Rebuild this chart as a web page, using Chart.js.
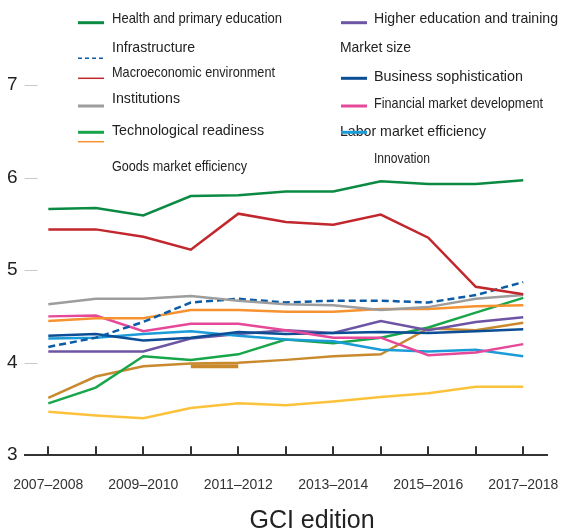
<!DOCTYPE html>
<html><head><meta charset="utf-8">
<script src="https://cdn.jsdelivr.net/npm/chart.js@4"></script>
<style>html,body{margin:0;padding:0;background:#fff;}</style>
</head><body>
<canvas id="c" width="561" height="531"></canvas>
<script>
const editions = ['2007–2008','2008–2009','2009–2010','2010–2011','2011–2012','2012–2013','2013–2014','2014–2015','2015–2016','2016–2017','2017–2018'];
const healthPrimaryEducation = [5.66,5.67,5.59,5.80,5.81,5.85,5.85,5.96,5.93,5.93,5.97];
const macroeconomicEnvironment = [5.44,5.44,5.36,5.22,5.61,5.52,5.49,5.60,5.35,4.82,4.74];
const institutions = [4.63,4.69,4.69,4.72,4.67,4.63,4.62,4.57,4.60,4.69,4.73];
const infrastructure = [4.17,4.27,4.44,4.65,4.69,4.65,4.67,4.67,4.65,4.73,4.87];
const goodsMarketEfficiency = [4.45,4.48,4.48,4.57,4.57,4.55,4.55,4.58,4.58,4.61,4.62];
const financialMarketDevelopment = [4.50,4.51,4.34,4.42,4.42,4.35,4.27,4.27,4.08,4.11,4.20];
const businessSophistication = [4.29,4.31,4.24,4.27,4.33,4.31,4.32,4.33,4.32,4.34,4.36];
const laborMarketEfficiency = [4.26,4.27,4.31,4.34,4.29,4.25,4.23,4.14,4.12,4.14,4.07];
const higherEducationTraining = [4.12,4.12,4.12,4.26,4.31,4.35,4.32,4.45,4.35,4.44,4.49];
const technologicalReadiness = [3.56,3.73,4.07,4.03,4.09,4.25,4.21,4.27,4.38,4.54,4.70];
const marketSize = [3.62,3.85,3.96,3.99,4.00,4.03,4.07,4.09,4.37,4.35,4.43];
const innovation = [3.47,3.43,3.40,3.51,3.56,3.54,3.58,3.63,3.67,3.74,3.74];
// stray key mark of "Market size" that sits inside the plot in the original
const marketSizeKeyMark = [null,null,null,3.96,3.96,null,null,null,null,null,null];
const yTicks = [3,4,5,6,7];
const axisTitle = 'GCI edition';

const FONT = '"Liberation Sans", Arial, sans-serif';

function ds(label, data, color, extra) {
  return Object.assign({label, data, borderColor: color, backgroundColor: color,
    borderWidth: 2.5, pointRadius: 0, tension: 0, fill: false}, extra || {});
}

const datasets = [
  ds('Health and primary education', healthPrimaryEducation, '#0A8A42'),
  ds('Macroeconomic environment', macroeconomicEnvironment, '#C1272D'),
  ds('Institutions', institutions, '#9D9D9D'),
  ds('Infrastructure', infrastructure, '#0B5BA6', {borderDash: [7, 4]}),
  ds('Goods market efficiency', goodsMarketEfficiency, '#F6922F'),
  ds('Financial market development', financialMarketDevelopment, '#E6489A'),
  ds('Business sophistication', businessSophistication, '#0B4E95'),
  ds('Labor market efficiency', laborMarketEfficiency, '#1B9BD7'),
  ds('Higher education and training', higherEducationTraining, '#6D55A4'),
  ds('Technological readiness', technologicalReadiness, '#19A64B'),
  ds('Market size', marketSize, '#C98A2E'),
  ds('Innovation', innovation, '#FDC23C'),
  ds('', marketSizeKeyMark, '#C98A2E', {borderWidth: 4, borderCapStyle: 'butt'})
];

const legendLayout = [
  {ds:0,  tx:112, ty:19,  sx:78,  sy:22.7,  lw:3,   w:170},
  {ds:3,  tx:112, ty:48,  sx:78,  sy:58.3,  lw:1.5, w:83, dash:[4,3]},
  {ds:1,  tx:112, ty:73,  sx:78,  sy:78.3,  lw:1.5, w:163},
  {ds:2,  tx:112, ty:99,  sx:78,  sy:106,   lw:3,   w:68},
  {ds:9,  tx:112, ty:131, sx:78,  sy:132.3, lw:3,   w:152},
  {ds:4,  tx:112, ty:167, sx:78,  sy:141.7, lw:1.5, w:135},
  {ds:8,  tx:374, ty:19,  sx:341, sy:22.7,  lw:3,   w:184},
  {ds:10, tx:340, ty:48,  w:71},
  {ds:6,  tx:374, ty:77,  sx:341, sy:78.3,  lw:3,   w:149},
  {ds:5,  tx:374, ty:104, sx:341, sy:106,   lw:3,   w:169},
  {ds:7,  tx:340, ty:132, sx:341, sy:132.3, lw:3,   w:146},
  {ds:11, tx:374, ty:159, w:56}
];

const decor = {
  id: 'gciDecor',
  afterDraw(chart) {
    const {ctx, chartArea: a, scales: {x, y}} = chart;
    ctx.save();
    // short y tick marks
    ctx.strokeStyle = '#c9c9c9'; ctx.lineWidth = 1;
    y.ticks.forEach(t => {
      if (t.value === y.min) return;
      const py = Math.round(y.getPixelForValue(t.value)) + 0.5;
      ctx.beginPath(); ctx.moveTo(a.left, py); ctx.lineTo(a.left + 13, py); ctx.stroke();
    });
    // x tick marks pointing up from the axis
    ctx.strokeStyle = '#333'; ctx.lineWidth = 2;
    x.ticks.forEach((t, i) => {
      const px = Math.round(x.getPixelForTick(i));
      ctx.beginPath(); ctx.moveTo(px, a.bottom); ctx.lineTo(px, a.bottom - 9); ctx.stroke();
    });
    // axis title
    ctx.fillStyle = '#222'; ctx.font = '25px ' + FONT;
    ctx.textAlign = 'center'; ctx.textBaseline = 'middle';
    ctx.fillText(axisTitle, 312, 521);
    // legend
    ctx.textAlign = 'left'; ctx.fillStyle = '#222'; ctx.font = '14.5px ' + FONT;
    legendLayout.forEach(it => {
      const d = chart.data.datasets[it.ds];
      const m = ctx.measureText(d.label).width;
      ctx.save(); ctx.translate(it.tx, it.ty); ctx.scale(it.w / m, 1);
      ctx.fillText(d.label, 0, 0); ctx.restore();
    });
    legendLayout.forEach(it => {
      if (it.sx === undefined) return;
      const d = chart.data.datasets[it.ds];
      ctx.save();
      ctx.strokeStyle = d.borderColor; ctx.lineWidth = it.lw;
      ctx.setLineDash(it.dash || []);
      ctx.beginPath(); ctx.moveTo(it.sx, it.sy); ctx.lineTo(it.sx + 26, it.sy); ctx.stroke();
      ctx.restore();
    });
    ctx.restore();
  }
};

new Chart(document.getElementById('c').getContext('2d'), {
  type: 'line',
  data: {labels: editions, datasets},
  options: {
    responsive: false, animation: false,
    layout: {padding: {left: 7, right: 14, top: 85, bottom: 37}},
    plugins: {legend: {display: false}, tooltip: {enabled: false}},
    scales: {
      x: {
        offset: true,
        grid: {display: false, drawTicks: true, tickLength: 22},
        border: {display: true, color: '#333', width: 2},
        ticks: {autoSkip: false, maxRotation: 0, padding: 0, color: '#333',
          font: {family: FONT, size: 14},
          callback: (v, i) => (i % 2 === 0 ? editions[i] : '')}
      },
      y: {
        min: yTicks[0], max: yTicks[yTicks.length - 1],
        afterBuildTicks: s => { s.ticks = yTicks.map(v => ({value: v})); },
        grid: {display: false, drawTicks: true, tickLength: 7},
        border: {display: false},
        ticks: {padding: 0, color: '#222', font: {family: FONT, size: 19}}
      }
    }
  },
  plugins: [decor]
});
</script>
</body></html>
